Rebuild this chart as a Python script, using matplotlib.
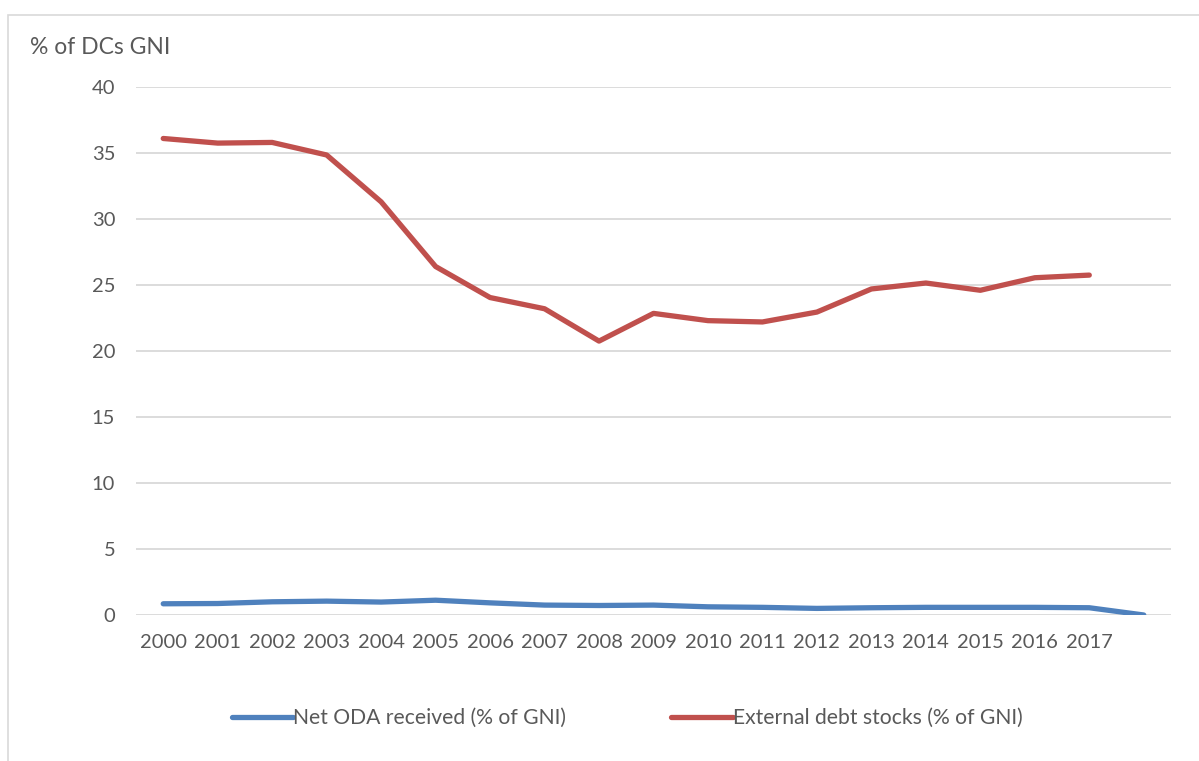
import matplotlib
matplotlib.use("Agg")
import matplotlib.pyplot as plt
from matplotlib.patches import Rectangle

years = ["2000", "2001", "2002", "2003", "2004", "2005", "2006", "2007", "2008",
         "2009", "2010", "2011", "2012", "2013", "2014", "2015", "2016", "2017", ""]
net_oda = [0.85, 0.87, 1.0, 1.05, 0.98, 1.12, 0.92, 0.75, 0.72, 0.75, 0.62, 0.58,
           0.5, 0.55, 0.58, 0.58, 0.58, 0.55, 0.0]
ext_debt = [36.1, 35.75, 35.8, 34.85, 31.3, 26.4, 24.05, 23.2, 20.75, 22.85, 22.3,
            22.2, 22.95, 24.7, 25.15, 24.6, 25.55, 25.75, None]
yticks = [0, 5, 10, 15, 20, 25, 30, 35, 40]

plt.rcParams['font.family'] = ['Lato', 'DejaVu Sans']
txt = '#595959'

W, H = 1199, 761
fig = plt.figure(figsize=(W / 100, H / 100), dpi=100)
ax = fig.add_axes([136 / W, 1 - 615 / H, (1171 - 136) / W, (615 - 87) / H])

x = list(range(len(years)))
ax.plot(x, net_oda, color='#4F81BD', lw=3.8, solid_capstyle='round',
        solid_joinstyle='round', label='Net ODA received (% of GNI)')
xd = [i for i, v in zip(x, ext_debt) if v is not None]
yd = [v for v in ext_debt if v is not None]
ax.plot(xd, yd, color='#C0504D', lw=3.8, solid_capstyle='round',
        solid_joinstyle='round', label='External debt stocks (% of GNI)')

ax.set_xlim(-0.5, len(years) - 0.5)
ax.set_ylim(0, 40)
ax.set_yticks(yticks)
ax.set_xticks(x)
ax.set_xticklabels(years)
ax.grid(axis='y', color='#D9D9D9', lw=1.3)
ax.set_axisbelow(True)
for s in ax.spines.values():
    s.set_visible(False)
ax.tick_params(axis='both', length=0, labelsize=14.5, colors=txt)
ax.tick_params(axis='y', pad=15)
ax.tick_params(axis='x', pad=14)

fig.text(30 / W, 1 - 48 / H, '% of DCs GNI', fontsize=16.5, color=txt,
         ha='left', va='center')

# chart frame
fig.patches.append(Rectangle((8 / W, -0.1), 1.2, 1 - 15 / H + 0.1,
                             transform=fig.transFigure, fill=False,
                             edgecolor='#D9D9D9', lw=1.2))

leg = fig.legend(loc='center', bbox_to_anchor=(627 / W, 1 - 718 / H), ncol=2,
                 frameon=False, fontsize=15.2, handlelength=2.9,
                 handletextpad=0.0, columnspacing=5.0)
for t in leg.get_texts():
    t.set_color(txt)

fig.savefig('out.png', dpi=100)
